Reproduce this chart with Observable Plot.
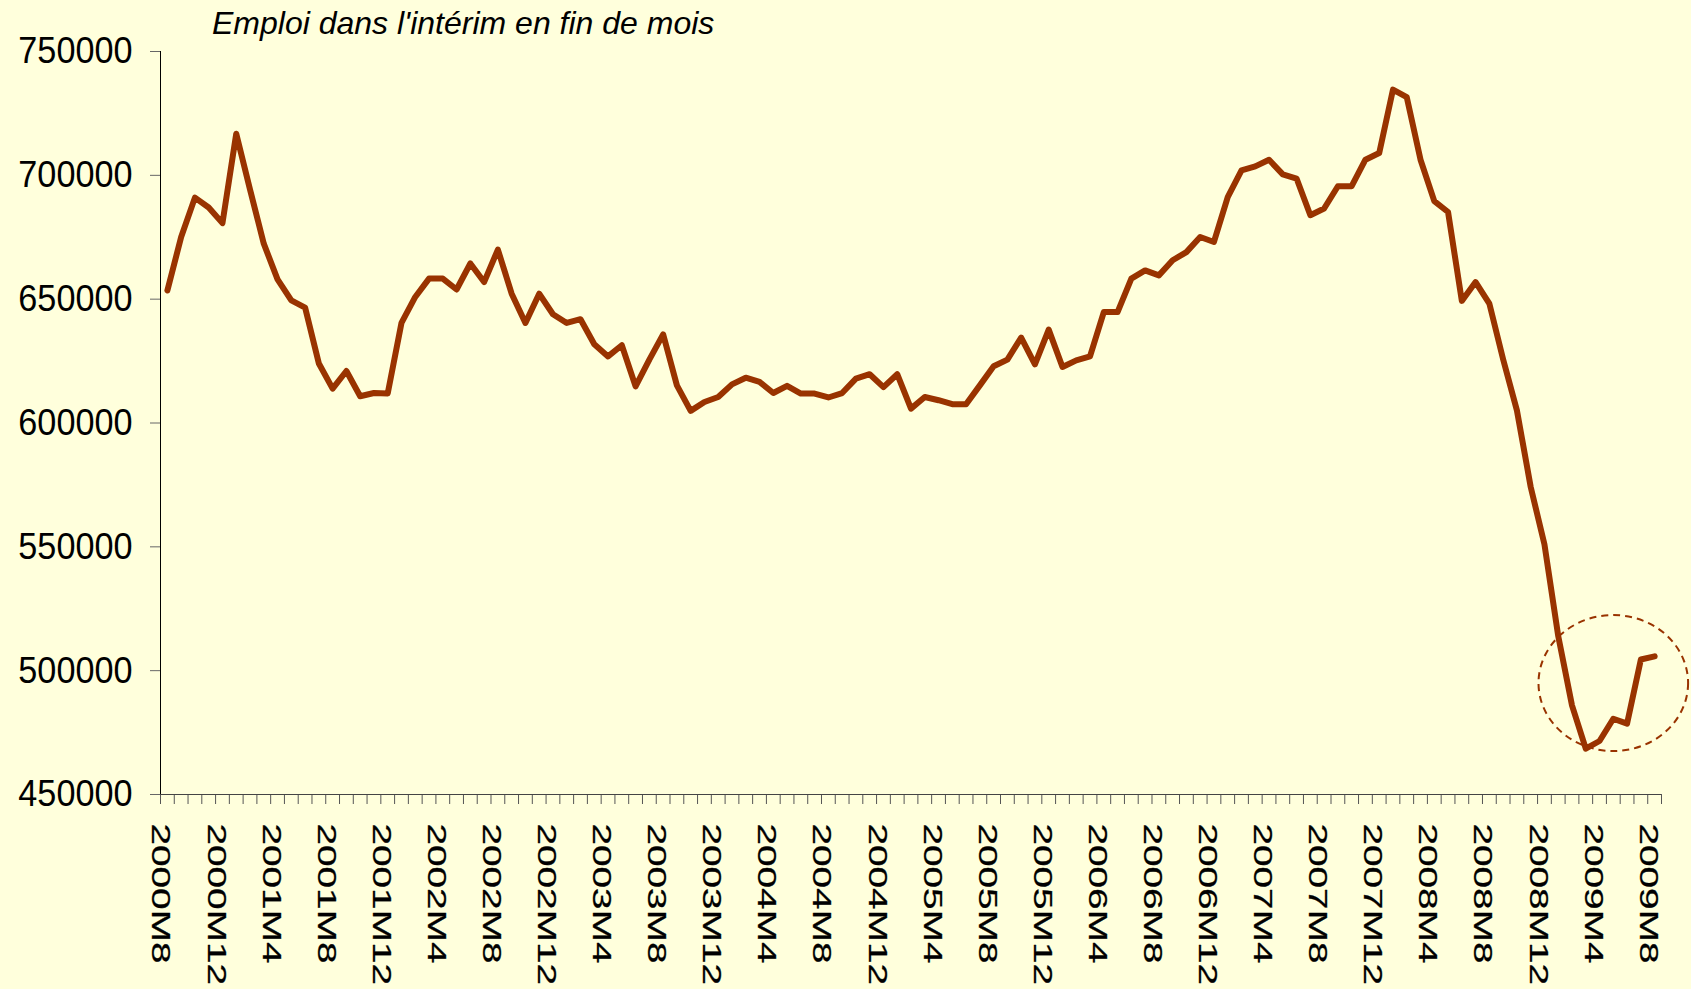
<!DOCTYPE html>
<html><head><meta charset="utf-8">
<script src="https://cdn.jsdelivr.net/npm/d3@7"></script>
<script src="https://cdn.jsdelivr.net/npm/@observablehq/plot@0.6"></script>
<style>
html,body{margin:0;padding:0;background:#FFFFDC;}
#wrap{position:relative;width:1691px;height:989px;overflow:hidden;background:#FFFFDC;}
#title{position:absolute;left:212px;top:7px;font:italic 32px "Liberation Sans",Arial,sans-serif;line-height:32px;color:#000;white-space:nowrap;}
svg [aria-label="y-axis tick"]{stroke:#666;}
svg [aria-label="x-axis tick"]{stroke:#555;}
</style></head><body>
<div id="wrap"><div id="title"></div></div>
<script>
const title = "Emploi dans l'intérim en fin de mois";

const xTickLabels = ["2000M8","2000M12","2001M4","2001M8","2001M12","2002M4","2002M8","2002M12",
  "2003M4","2003M8","2003M12","2004M4","2004M8","2004M12","2005M4","2005M8","2005M12",
  "2006M4","2006M8","2006M12","2007M4","2007M8","2007M12","2008M4","2008M8","2008M12",
  "2009M4","2009M8"];

const yTicks = [450000, 500000, 550000, 600000, 650000, 700000, 750000];

// Monthly temporary employment, 2000M8 .. 2009M8 (109 months)
const values = [
  653500, 675100, 691000, 687000, 680700, 716800, 694300, 672400, 658000, 649500,
  646600, 624000, 613900, 621000, 610800, 612100, 611900, 640400, 650900, 658300,
  658300, 653900, 664400, 656900, 670000, 652200, 640400, 652200, 643900, 640400,
  641900, 631800, 626900, 631400, 614800, 625600, 635800, 615200, 604900, 608500,
  610500, 615600, 618300, 616600, 612100, 615000, 611900, 611900, 610300, 612100,
  617900, 619700, 614500, 619700, 605800, 610500, 609200, 607600, 607600, 615200,
  622900, 625600, 634500, 623700, 637700, 622600, 625300, 626900, 644800, 644800,
  658300, 661600, 659600, 665700, 669000, 675100, 673100, 691200, 702000, 703600,
  706300, 700400, 698700, 683900, 686600, 695600, 695600, 706300, 709000, 734600,
  731600, 706300, 689600, 685200, 649300, 656900, 648200, 625700, 605100, 574200,
  551000, 514000, 486000, 468500, 471600, 480600, 478600, 504500, 505800
];

// dashed annotation ellipse around the recent rebound (month index, value)
const annotation = [{month: 105.5, value: 495000}];

const color = "#993300";
const nMonths = values.length;

const chart = Plot.plot({
  width: 1691,
  height: 989,
  marginLeft: 160,
  marginRight: 30,
  marginTop: 51,
  marginBottom: 195,
  style: {background: "#FFFFDC", fontFamily: "'Liberation Sans', Arial, sans-serif", color: "black", overflow: "visible"},
  x: {domain: [0, nMonths], axis: null},
  y: {domain: [450000, 750000], axis: null},
  marks: [
    Plot.axisY({ticks: yTicks, tickSize: 10, tickPadding: 18, tickFormat: d => String(d), fontSize: 37, label: null, fill: "black"}),
    Plot.axisX({ticks: d3.range(0, nMonths + 1), tickSize: 10, tickFormat: () => "", label: null}),
    Plot.ruleX([0], {y1: 450000, y2: 750000, stroke: "black", strokeWidth: 1}),
    Plot.ruleY([450000], {x1: 0, x2: nMonths, stroke: "#444", strokeWidth: 1}),
    Plot.text(xTickLabels, {x: (d, k) => k * 4, y: () => 450000, text: d => d, rotate: 90,
      textAnchor: "start", lineAnchor: "middle", dy: 29, fontSize: 25, fill: "black",
      stroke: "black", strokeWidth: 0.25}),
    Plot.line(values, {x: (d, i) => i + 0.5, y: d => d, stroke: color, strokeWidth: 6,
      strokeLinejoin: "round", strokeLinecap: "round"}),
    Plot.dot(annotation, {x: "month", y: "value", r: 68, stroke: color, fill: "none",
      strokeWidth: 2, strokeDasharray: "7,5"})
  ]
});

function appendScale(t, sx, sy) {
  let tr = t.getAttribute("transform");
  if (!tr) {
    const x = t.getAttribute("x") || 0, y = t.getAttribute("y") || 0;
    tr = `translate(${x},${y})`;
    t.removeAttribute("x"); t.removeAttribute("y");
  }
  t.setAttribute("transform", tr + ` scale(${sx},${sy})`);
}
chart.querySelectorAll('g[aria-label="y-axis tick label"] text').forEach(t => appendScale(t, 0.925, 1));
chart.querySelectorAll('g[aria-label="text"] text').forEach(t => appendScale(t, 1.55, 1));
chart.querySelectorAll('g[aria-label="dot"] circle').forEach(c => {
  const cx = +c.getAttribute("cx"), cy = +c.getAttribute("cy");
  c.setAttribute("transform", `translate(${cx},${cy}) scale(1.1,1) translate(${-cx},${-cy})`);
  c.setAttribute("vector-effect", "non-scaling-stroke");
});

document.getElementById("wrap").appendChild(chart);
const t = document.getElementById("title");
t.textContent = title;
document.getElementById("wrap").appendChild(t);
</script>
</body></html>
